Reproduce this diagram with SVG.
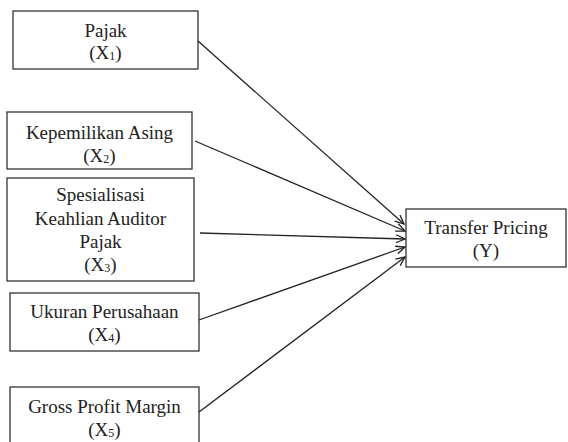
<svg xmlns="http://www.w3.org/2000/svg" width="568" height="442" viewBox="0 0 568 442">
<defs>
<style>
.box{fill:#fff;stroke:#333;stroke-width:1.3}
.t{font-family:"Liberation Serif","Times New Roman",serif;font-size:19px;fill:#222;text-anchor:middle}
.s{font-size:12px}
.c{stroke:#222;stroke-width:1.3;fill:none;marker-end:url(#ah)}
</style>
<marker id="ah" markerWidth="11" markerHeight="11" refX="10" refY="5.5" orient="auto" markerUnits="userSpaceOnUse">
<path d="M1,1.5 L10,5.5 L1,9.5" fill="none" stroke="#222" stroke-width="1.3"/>
</marker>
</defs>
<rect width="568" height="442" fill="#fff"/>
<g id="x1">
<rect class="box" x="13" y="11" width="185" height="58"/>
<text class="t" x="105.5" y="37">Pajak</text>
<text class="t" x="105.5" y="59">(X<tspan class="s" dy="1">1</tspan><tspan dy="-1">)</tspan></text>
</g>
<g id="x2">
<rect class="box" x="7" y="112" width="185" height="57"/>
<text class="t" x="99.5" y="139">Kepemilikan Asing</text>
<text class="t" x="99.5" y="162">(X<tspan class="s" dy="1">2</tspan><tspan dy="-1">)</tspan></text>
</g>
<g id="x3">
<rect class="box" x="7" y="178" width="187" height="103"/>
<text class="t" x="100.5" y="201">Spesialisasi</text>
<text class="t" x="100.5" y="225">Keahlian Auditor</text>
<text class="t" x="100.5" y="248">Pajak</text>
<text class="t" x="100.5" y="271">(X<tspan class="s" dy="1">3</tspan><tspan dy="-1">)</tspan></text>
</g>
<g id="x4">
<rect class="box" x="10" y="293" width="189" height="58"/>
<text class="t" x="104.5" y="318">Ukuran Perusahaan</text>
<text class="t" x="104.5" y="341">(X<tspan class="s" dy="1">4</tspan><tspan dy="-1">)</tspan></text>
</g>
<g id="x5">
<rect class="box" x="10" y="387" width="189" height="62"/>
<text class="t" x="104.5" y="413">Gross Profit Margin</text>
<text class="t" x="104.5" y="436">(X<tspan class="s" dy="1">5</tspan><tspan dy="-1">)</tspan></text>
</g>
<g id="y">
<rect class="box" x="406" y="209" width="160" height="58"/>
<text class="t" x="486" y="234">Transfer Pricing</text>
<text class="t" x="486" y="257">(Y)</text>
</g>
<g id="connectors">
<line class="c" x1="198" y1="41" x2="404" y2="224"/>
<line class="c" x1="195" y1="141" x2="405" y2="231"/>
<line class="c" x1="200" y1="233" x2="405" y2="239"/>
<line class="c" x1="199" y1="320" x2="405" y2="247"/>
<line class="c" x1="199" y1="412" x2="405" y2="257"/>
</g>
</svg>
